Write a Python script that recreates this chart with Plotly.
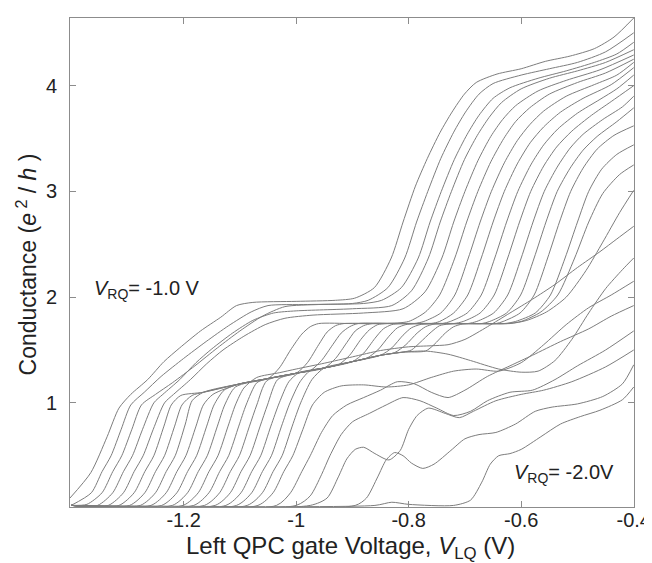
import plotly.graph_objects as go

# Conductance traces G(V_LQ) in e^2/h, one list of (V_LQ, G) knots per trace,
# read off the published figure (V_RQ = -1.0 V on the left ... -2.0 V on the right).
u01 = [(-1.402, 0.10), (-1.365, 0.34), (-1.336, 0.68), (-1.315, 0.95), (-1.294, 1.08), (-1.264, 1.22),
       (-1.235, 1.39), (-1.207, 1.52), (-1.170, 1.68), (-1.134, 1.81), (-1.106, 1.92), (-1.077, 1.95),
       (-1.00, 1.96), (-0.93, 1.97), (-0.896, 1.99), (-0.861, 2.09), (-0.831, 2.37), (-0.810, 2.71),
       (-0.788, 3.05), (-0.767, 3.31), (-0.744, 3.56), (-0.723, 3.75), (-0.701, 3.92), (-0.680, 4.03),
       (-0.643, 4.11), (-0.600, 4.16), (-0.557, 4.23), (-0.513, 4.28), (-0.470, 4.35), (-0.435, 4.46),
       (-0.40, 4.64)]
u02 = [(-1.40, 0.03), (-1.364, 0.15), (-1.345, 0.35), (-1.329, 0.5), (-1.311, 0.75), (-1.294, 0.98),
       (-1.27, 1.10), (-1.24, 1.25), (-1.20, 1.42), (-1.16, 1.58), (-1.12, 1.73), (-1.08, 1.86),
       (-1.05, 1.92), (-0.98, 1.93), (-0.90, 1.94), (-0.872, 1.97), (-0.837, 2.09), (-0.807, 2.37),
       (-0.786, 2.71), (-0.766, 3.0), (-0.743, 3.31), (-0.720, 3.56), (-0.699, 3.75), (-0.675, 3.92),
       (-0.65, 4.02), (-0.60, 4.10), (-0.55, 4.16), (-0.50, 4.22), (-0.45, 4.32), (-0.40, 4.50)]
u03 = [(-1.40, 0.03), (-1.372, 0.04), (-1.345, 0.15), (-1.326, 0.35), (-1.310, 0.5), (-1.292, 0.75),
       (-1.275, 0.98), (-1.25, 1.08), (-1.22, 1.19), (-1.18, 1.35), (-1.14, 1.52), (-1.10, 1.68),
       (-1.06, 1.82), (-1.02, 1.91), (-0.96, 1.93), (-0.88, 1.94), (-0.848, 1.97), (-0.813, 2.09),
       (-0.783, 2.37), (-0.762, 2.71), (-0.742, 3.0), (-0.719, 3.30), (-0.696, 3.54), (-0.675, 3.72),
       (-0.65, 3.88), (-0.62, 3.98), (-0.57, 4.07), (-0.52, 4.14), (-0.47, 4.22), (-0.43, 4.30),
       (-0.40, 4.41)]
u04 = [(-1.40, 0.03), (-1.353, 0.03), (-1.326, 0.15), (-1.307, 0.35), (-1.291, 0.5), (-1.273, 0.75),
       (-1.253, 1.0), (-1.237, 1.08), (-1.207, 1.22), (-1.178, 1.38), (-1.15, 1.51), (-1.113, 1.66),
       (-1.077, 1.78), (-1.04, 1.85), (-1.00, 1.87), (-0.90, 1.89), (-0.83, 1.92), (-0.795, 2.06),
       (-0.765, 2.37), (-0.744, 2.71), (-0.724, 3.0), (-0.701, 3.30), (-0.678, 3.53), (-0.657, 3.70),
       (-0.635, 3.84), (-0.60, 3.97), (-0.55, 4.07), (-0.50, 4.14), (-0.45, 4.22), (-0.40, 4.34)]
u05 = [(-1.40, 0.03), (-1.334, 0.03), (-1.307, 0.15), (-1.288, 0.35), (-1.272, 0.5), (-1.254, 0.75),
       (-1.234, 1.0), (-1.218, 1.08), (-1.188, 1.22), (-1.159, 1.37), (-1.13, 1.50), (-1.093, 1.63),
       (-1.055, 1.74), (-1.02, 1.80), (-0.97, 1.83), (-0.88, 1.85), (-0.81, 1.89), (-0.771, 2.05),
       (-0.741, 2.37), (-0.72, 2.71), (-0.70, 3.0), (-0.677, 3.29), (-0.654, 3.52), (-0.633, 3.68),
       (-0.61, 3.81), (-0.57, 3.95), (-0.52, 4.05), (-0.46, 4.15), (-0.40, 4.29)]
u06 = [(-1.40, 0.03), (-1.315, 0.03), (-1.288, 0.15), (-1.269, 0.35), (-1.253, 0.5), (-1.235, 0.78),
       (-1.222, 0.98), (-1.205, 1.07), (-1.165, 1.10), (-1.10, 1.18), (-1.05, 1.23), (-1.03, 1.33),
       (-1.01, 1.50), (-0.99, 1.65), (-0.975, 1.72), (-0.96, 1.75), (-0.90, 1.75), (-0.84, 1.75),
       (-0.80, 1.77), (-0.77, 1.86), (-0.745, 2.02), (-0.718, 2.37), (-0.697, 2.71), (-0.677, 3.0),
       (-0.654, 3.28), (-0.631, 3.50), (-0.61, 3.66), (-0.585, 3.79), (-0.55, 3.92), (-0.50, 4.03),
       (-0.45, 4.12), (-0.40, 4.25)]
u07 = [(-1.40, 0.03), (-1.296, 0.03), (-1.269, 0.15), (-1.25, 0.35), (-1.234, 0.5), (-1.216, 0.78),
       (-1.203, 0.98), (-1.185, 1.07), (-1.165, 1.10), (-1.10, 1.18), (-1.05, 1.23), (-1.00, 1.28),
       (-0.98, 1.38), (-0.96, 1.55), (-0.945, 1.67), (-0.93, 1.73), (-0.915, 1.75), (-0.85, 1.75),
       (-0.79, 1.75), (-0.773, 1.77), (-0.743, 1.85), (-0.718, 2.02), (-0.694, 2.37), (-0.673, 2.71),
       (-0.653, 3.0), (-0.63, 3.27), (-0.607, 3.48), (-0.585, 3.63), (-0.56, 3.76), (-0.52, 3.90),
       (-0.47, 4.01), (-0.43, 4.10), (-0.40, 4.22)]
# low sloped first plateau (lower strand of the double line)
p1a = [(-1.40, 0.03), (-1.277, 0.03), (-1.25, 0.15), (-1.231, 0.35), (-1.215, 0.5), (-1.197, 0.80),
       (-1.185, 1.02), (-1.165, 1.10), (-1.10, 1.18), (-1.05, 1.23), (-1.00, 1.28), (-0.95, 1.33),
       (-0.90, 1.39), (-0.85, 1.45), (-0.81, 1.48), (-0.77, 1.49), (-0.73, 1.46), (-0.69, 1.40),
       (-0.64, 1.32), (-0.60, 1.29), (-0.57, 1.30), (-0.54, 1.40), (-0.51, 1.60), (-0.48, 1.85),
       (-0.45, 2.08), (-0.42, 2.26), (-0.40, 2.37)]
u08 = [(-1.40, 0.03), (-1.258, 0.03), (-1.231, 0.15), (-1.212, 0.35), (-1.196, 0.5), (-1.178, 0.78),
       (-1.165, 0.98), (-1.148, 1.08), (-1.10, 1.18), (-1.05, 1.23), (-1.00, 1.28), (-0.975, 1.305),
       (-0.955, 1.40), (-0.935, 1.55), (-0.92, 1.66), (-0.905, 1.72), (-0.89, 1.75), (-0.82, 1.75),
       (-0.76, 1.75), (-0.745, 1.77), (-0.72, 1.85), (-0.695, 2.02), (-0.671, 2.37), (-0.65, 2.71),
       (-0.63, 3.0), (-0.607, 3.26), (-0.584, 3.46), (-0.56, 3.61), (-0.53, 3.75), (-0.49, 3.88),
       (-0.44, 4.01), (-0.40, 4.17)]
u09 = [(-1.40, 0.03), (-1.239, 0.03), (-1.212, 0.15), (-1.193, 0.35), (-1.177, 0.5), (-1.159, 0.78),
       (-1.146, 0.98), (-1.128, 1.12), (-1.10, 1.18), (-1.05, 1.23), (-1.00, 1.28), (-0.95, 1.33),
       (-0.93, 1.42), (-0.91, 1.57), (-0.895, 1.68), (-0.88, 1.73), (-0.865, 1.75), (-0.80, 1.75),
       (-0.74, 1.75), (-0.726, 1.77), (-0.696, 1.85), (-0.671, 2.02), (-0.647, 2.37), (-0.626, 2.71),
       (-0.606, 3.0), (-0.583, 3.25), (-0.56, 3.44), (-0.535, 3.59), (-0.50, 3.74), (-0.46, 3.87),
       (-0.43, 3.97), (-0.40, 4.10)]
u10 = [(-1.40, 0.03), (-1.22, 0.03), (-1.193, 0.15), (-1.174, 0.35), (-1.158, 0.5), (-1.14, 0.78),
       (-1.127, 0.98), (-1.108, 1.15), (-1.05, 1.23), (-1.00, 1.28), (-0.95, 1.33), (-0.925, 1.36),
       (-0.905, 1.45), (-0.885, 1.60), (-0.87, 1.69), (-0.855, 1.74), (-0.84, 1.75), (-0.78, 1.75),
       (-0.72, 1.75), (-0.703, 1.77), (-0.673, 1.85), (-0.648, 2.02), (-0.624, 2.37), (-0.603, 2.71),
       (-0.583, 3.0), (-0.56, 3.24), (-0.537, 3.42), (-0.51, 3.57), (-0.475, 3.72), (-0.44, 3.85),
       (-0.40, 4.00)]
# upper strand of the double line
p1b = [(-1.40, 0.03), (-1.201, 0.03), (-1.174, 0.15), (-1.155, 0.35), (-1.139, 0.5), (-1.121, 0.78),
       (-1.108, 0.98), (-1.093, 1.14), (-1.07, 1.24), (-1.03, 1.285), (-1.00, 1.32), (-0.95, 1.375),
       (-0.90, 1.435), (-0.85, 1.495), (-0.80, 1.53), (-0.76, 1.54), (-0.73, 1.55), (-0.70, 1.60),
       (-0.66, 1.72), (-0.62, 1.85), (-0.58, 1.98), (-0.54, 2.12), (-0.50, 2.28), (-0.46, 2.43),
       (-0.43, 2.55), (-0.40, 2.67)]
u11 = [(-1.40, 0.03), (-1.182, 0.03), (-1.155, 0.15), (-1.136, 0.35), (-1.12, 0.5), (-1.102, 0.78),
       (-1.089, 0.98), (-1.07, 1.19), (-1.05, 1.23), (-1.00, 1.28), (-0.95, 1.33), (-0.90, 1.39),
       (-0.88, 1.47), (-0.86, 1.61), (-0.845, 1.70), (-0.83, 1.74), (-0.815, 1.75), (-0.75, 1.75),
       (-0.695, 1.75), (-0.679, 1.77), (-0.649, 1.85), (-0.624, 2.02), (-0.60, 2.37), (-0.579, 2.71),
       (-0.559, 3.0), (-0.536, 3.23), (-0.513, 3.41), (-0.49, 3.54), (-0.455, 3.68), (-0.42, 3.80),
       (-0.40, 3.90)]
u12 = [(-1.40, 0.03), (-1.163, 0.03), (-1.136, 0.15), (-1.117, 0.35), (-1.101, 0.5), (-1.083, 0.78),
       (-1.07, 0.98), (-1.052, 1.21), (-1.00, 1.28), (-0.95, 1.33), (-0.90, 1.39), (-0.875, 1.42),
       (-0.855, 1.50), (-0.835, 1.63), (-0.82, 1.71), (-0.805, 1.74), (-0.79, 1.75), (-0.72, 1.75),
       (-0.67, 1.75), (-0.656, 1.77), (-0.626, 1.85), (-0.601, 2.02), (-0.577, 2.37), (-0.556, 2.71),
       (-0.536, 3.0), (-0.513, 3.22), (-0.49, 3.39), (-0.465, 3.52), (-0.43, 3.66), (-0.40, 3.79)]
u13 = [(-1.40, 0.03), (-1.144, 0.03), (-1.117, 0.15), (-1.098, 0.35), (-1.082, 0.5), (-1.064, 0.78),
       (-1.051, 0.98), (-1.033, 1.22), (-1.00, 1.28), (-0.95, 1.33), (-0.90, 1.39), (-0.85, 1.45),
       (-0.83, 1.52), (-0.81, 1.64), (-0.795, 1.71), (-0.78, 1.74), (-0.765, 1.75), (-0.70, 1.75),
       (-0.645, 1.75), (-0.632, 1.77), (-0.602, 1.85), (-0.577, 2.02), (-0.553, 2.37), (-0.532, 2.71),
       (-0.512, 3.0), (-0.49, 3.22), (-0.465, 3.40), (-0.435, 3.53), (-0.40, 3.62)]
u14 = [(-1.40, 0.03), (-1.125, 0.03), (-1.098, 0.15), (-1.079, 0.35), (-1.063, 0.5), (-1.045, 0.78),
       (-1.03, 1.0), (-1.013, 1.20), (-0.995, 1.285), (-0.95, 1.33), (-0.90, 1.39), (-0.85, 1.45),
       (-0.825, 1.475), (-0.805, 1.55), (-0.785, 1.66), (-0.77, 1.72), (-0.755, 1.745), (-0.74, 1.75),
       (-0.68, 1.75), (-0.63, 1.75), (-0.61, 1.77), (-0.575, 1.85), (-0.548, 2.02), (-0.522, 2.37),
       (-0.50, 2.71), (-0.48, 3.0), (-0.457, 3.21), (-0.43, 3.35), (-0.40, 3.44)]
u15 = [(-1.40, 0.03), (-1.106, 0.03), (-1.079, 0.15), (-1.06, 0.35), (-1.044, 0.5), (-1.026, 0.78),
       (-1.011, 1.0), (-0.993, 1.20), (-0.975, 1.305), (-0.95, 1.33), (-0.90, 1.39), (-0.85, 1.45),
       (-0.81, 1.48), (-0.795, 1.50), (-0.78, 1.57), (-0.76, 1.67), (-0.745, 1.73), (-0.73, 1.745),
       (-0.715, 1.75), (-0.67, 1.75), (-0.625, 1.75), (-0.60, 1.77), (-0.565, 1.86), (-0.535, 2.02),
       (-0.505, 2.37), (-0.48, 2.71), (-0.455, 2.98), (-0.425, 3.16), (-0.40, 3.25)]
u16 = [(-1.40, 0.03), (-1.087, 0.03), (-1.06, 0.15), (-1.041, 0.35), (-1.025, 0.5), (-1.007, 0.78),
       (-0.992, 1.0), (-0.972, 1.22), (-0.95, 1.33), (-0.90, 1.39), (-0.85, 1.45), (-0.81, 1.48),
       (-0.77, 1.49), (-0.755, 1.55), (-0.735, 1.66), (-0.72, 1.72), (-0.705, 1.745), (-0.69, 1.75),
       (-0.65, 1.75), (-0.62, 1.75), (-0.59, 1.78), (-0.555, 1.86), (-0.52, 2.0), (-0.485, 2.25),
       (-0.455, 2.52), (-0.425, 2.80), (-0.40, 3.01)]
# traces with a depressed first step (right-hand group)
r01 = [(-1.40, 0.03), (-1.068, 0.03), (-1.041, 0.15), (-1.022, 0.35), (-1.006, 0.5), (-0.988, 0.75),
       (-0.971, 0.98), (-0.95, 1.10), (-0.92, 1.16), (-0.88, 1.17), (-0.84, 1.15), (-0.80, 1.17),
       (-0.76, 1.24), (-0.72, 1.30), (-0.68, 1.32), (-0.64, 1.30), (-0.60, 1.38), (-0.56, 1.55),
       (-0.52, 1.74), (-0.48, 1.90), (-0.44, 2.02), (-0.40, 2.15)]
r02 = [(-1.40, 0.03), (-1.035, 0.03), (-1.01, 0.15), (-0.99, 0.35), (-0.975, 0.5), (-0.955, 0.72),
       (-0.935, 0.88), (-0.91, 0.98), (-0.88, 1.05), (-0.85, 1.12), (-0.82, 1.20), (-0.79, 1.18),
       (-0.76, 1.10), (-0.73, 1.05), (-0.70, 1.12), (-0.66, 1.25), (-0.62, 1.35), (-0.58, 1.45),
       (-0.53, 1.58), (-0.48, 1.70), (-0.44, 1.82), (-0.40, 1.92)]
r03 = [(-1.40, 0.03), (-1.00, 0.03), (-0.975, 0.12), (-0.955, 0.32), (-0.94, 0.5), (-0.92, 0.70),
       (-0.90, 0.82), (-0.87, 0.90), (-0.84, 0.98), (-0.81, 1.05), (-0.78, 1.02), (-0.75, 0.95),
       (-0.72, 0.88), (-0.69, 0.92), (-0.66, 1.02), (-0.62, 1.10), (-0.58, 1.12), (-0.54, 1.22),
       (-0.50, 1.35), (-0.45, 1.50), (-0.40, 1.68)]
r04 = [(-1.40, 0.03), (-0.975, 0.03), (-0.945, 0.10), (-0.925, 0.30), (-0.91, 0.47), (-0.895, 0.56),
       (-0.88, 0.58), (-0.86, 0.52), (-0.835, 0.46), (-0.815, 0.55), (-0.80, 0.75), (-0.785, 0.88),
       (-0.765, 0.95), (-0.735, 0.90), (-0.71, 0.86), (-0.685, 0.92), (-0.645, 1.02), (-0.60, 1.08),
       (-0.56, 1.12), (-0.51, 1.20), (-0.45, 1.34), (-0.40, 1.50)]
r05 = [(-1.40, 0.03), (-0.895, 0.03), (-0.875, 0.10), (-0.855, 0.30), (-0.84, 0.46), (-0.825, 0.53),
       (-0.81, 0.50), (-0.795, 0.43), (-0.775, 0.38), (-0.755, 0.42), (-0.725, 0.55), (-0.70, 0.66),
       (-0.675, 0.70), (-0.645, 0.72), (-0.61, 0.80), (-0.575, 0.92), (-0.545, 0.96), (-0.50, 0.99),
       (-0.455, 1.06), (-0.42, 1.18), (-0.40, 1.36)]
r06 = [(-1.40, 0.03), (-0.86, 0.03), (-0.83, 0.06), (-0.80, 0.04), (-0.72, 0.03), (-0.69, 0.08),
       (-0.67, 0.25), (-0.655, 0.42), (-0.64, 0.50), (-0.62, 0.52), (-0.60, 0.56), (-0.565, 0.68),
       (-0.53, 0.80), (-0.495, 0.87), (-0.46, 0.93), (-0.42, 1.03), (-0.40, 1.15)]

traces = [u01, u02, u03, u04, u05, u06, u07, p1a, u08, u09, u10, p1b, u11, u12, u13,
          u14, u15, u16, r01, r02, r03, r04, r05, r06]

x_ticks = [-1.2, -1.0, -0.8, -0.6, -0.4]
x_tick_labels = ["-1.2", "-1", "-0.8", "-0.6", "-0.4"]
y_ticks = [1, 2, 3, 4]

LINE = "#7d7d7d"
AXIS = "#8c8c8c"
INK = "#222222"
FONT = "Liberation Sans, Arial, sans-serif"

fig = go.Figure()
for pts in traces:
    fig.add_trace(
        go.Scatter(
            x=[p[0] for p in pts],
            y=[p[1] for p in pts],
            mode="lines",
            line=dict(color=LINE, width=1.0, shape="spline", smoothing=0.7),
            hoverinfo="skip",
            showlegend=False,
        )
    )

# in-plot labels for the first and last trace
fig.add_annotation(
    x=-1.363, y=2.07, xref="x", yref="y", xanchor="left", yanchor="middle",
    text="<i>V</i><sub>RQ</sub>= -1.0 V", showarrow=False,
    font=dict(family=FONT, size=20, color=INK),
)
fig.add_annotation(
    x=-0.617, y=0.33, xref="x", yref="y", xanchor="left", yanchor="middle",
    text="<i>V</i><sub>RQ</sub>= -2.0V", showarrow=False,
    font=dict(family=FONT, size=20, color=INK),
)
# axis titles, placed by hand
fig.add_annotation(
    x=0.497, y=0, xref="paper", yref="paper", xanchor="center", yanchor="middle",
    yshift=-40, text="Left QPC gate Voltage, <i>V</i><sub>LQ</sub> (V)", showarrow=False,
    font=dict(family=FONT, size=24, color=INK),
)
fig.add_annotation(
    x=0, y=0.496, xref="paper", yref="paper", xanchor="center", yanchor="middle",
    xshift=-43, textangle=-90, text="Conductance (<i>e</i><sup> 2</sup> / <i>h</i> )",
    showarrow=False, font=dict(family=FONT, size=23, color=INK),
)

fig.update_layout(
    width=652,
    height=563,
    margin=dict(l=62, r=14, t=9, b=64),
    paper_bgcolor="white",
    plot_bgcolor="white",
    font=dict(family=FONT, size=20, color=INK),
)
fig.update_xaxes(
    range=[-1.402, -0.3995],
    tickvals=x_ticks,
    ticktext=x_tick_labels,
    ticks="inside",
    ticklen=6,
    tickcolor=AXIS,
    ticklabeloverflow="allow",
    ticklabelstandoff=-5,
    showline=True,
    linecolor=AXIS,
    linewidth=1,
    mirror="ticks",
    showgrid=False,
    zeroline=False,
)
fig.update_yaxes(
    range=[0.015, 4.64],
    tickvals=y_ticks,
    ticks="inside",
    ticklen=6,
    tickcolor=AXIS,
    ticklabelstandoff=8,
    showline=True,
    linecolor=AXIS,
    linewidth=1,
    mirror="ticks",
    showgrid=False,
    zeroline=False,
)

fig.write_html("out.html")
